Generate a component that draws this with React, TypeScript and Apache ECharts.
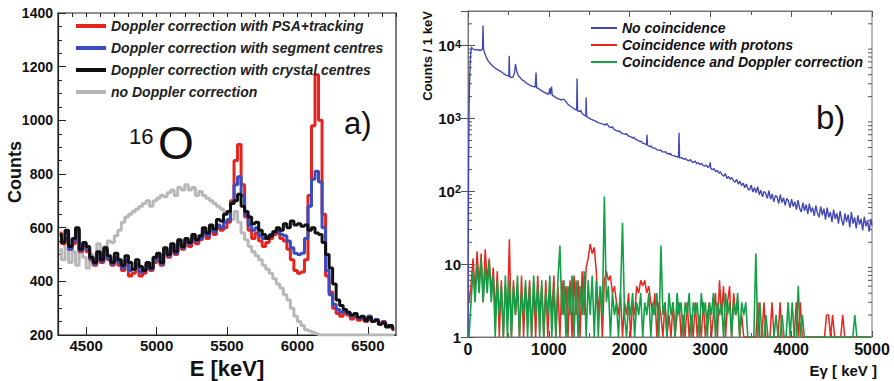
import React, { useEffect, useRef } from 'react';
import * as echarts from 'echarts';

const FONT = '"Liberation Sans", Arial, Helvetica, sans-serif';

// ---------- Panel a) : 16O spectra, 25 keV bins starting at 4300 keV ----------
const aBinStart = 4300;
const aBinWidth = 25;

const aPsaTracking = [
  580, 540, 560, 520, 540, 590, 510, 530,
  510, 480, 460, 500, 470, 510, 480, 460,
  480, 460, 440, 470, 420, 430, 450, 420,
  430, 460, 440, 470, 490, 460, 510, 490,
  520, 500, 540, 520, 545, 530, 560, 540,
  555, 580, 560, 590, 575, 600, 590, 600,
  620, 700, 850, 910, 760, 640, 590, 560,
  580, 550, 530, 545, 560, 575, 580, 560,
  550, 520, 480, 440, 430, 435, 480, 720,
  980, 1170, 1000, 650, 420, 360, 300, 280,
  270, 280, 275, 260, 270, 255, 260, 250,
  270, 250, 255, 240, 250, 235, 230, 220,
];

const aSegmentCentres = [
  570, 550, 580, 520, 550, 590, 515, 540,
  520, 485, 465, 505, 475, 515, 485, 465,
  490, 470, 450, 480, 440, 445, 465, 435,
  440, 465, 445, 480, 500, 465, 515, 495,
  530, 505, 545, 525, 550, 540, 565, 550,
  560, 590, 570, 600, 585, 610, 600, 620,
  630, 690, 760, 790, 720, 650, 610, 590,
  600, 570, 560, 565, 575, 585, 590, 575,
  570, 550, 525, 505, 500, 505, 560, 680,
  780, 810, 770, 600, 440, 350, 315, 295,
  285, 290, 280, 270, 275, 262, 265, 255,
  270, 252, 258, 242, 248, 236, 232, 222,
];

const aCrystalCentres = [
  575, 545, 590, 530, 560, 600, 520, 545,
  530, 490, 470, 510, 480, 525, 495, 470,
  505, 480, 460, 495, 470, 445, 480, 455,
  440, 470, 450, 490, 505, 470, 525, 500,
  540, 510, 555, 530, 560, 545, 575, 555,
  570, 600, 580, 610, 595, 630, 625, 650,
  660, 690, 700, 725, 680, 660, 640, 615,
  620, 590, 575, 560, 570, 585, 600, 590,
  615, 600, 625, 610, 615, 605, 610, 590,
  600, 580, 575, 545, 500, 450, 390, 330,
  310, 295, 285, 275, 280, 265, 270, 255,
  265, 250, 255, 240, 245, 230, 235, 225,
];

const aNoDoppler = [
  520, 480, 540, 470, 510, 460, 530, 490,
  450, 500, 470, 540, 510, 530, 550, 545,
  570, 590, 620, 640, 650, 660, 670, 680,
  690, 700, 680, 700, 710, 720, 715, 730,
  740, 720, 750, 740, 760, 740, 750, 720,
  735, 720, 710, 700, 690, 680, 670, 660,
  650, 630, 660, 620, 580, 555, 530, 510,
  495, 480, 460, 445, 430, 410, 390, 375,
  350, 330, 300, 270, 250, 235, 220, 215,
  210, 205, 200, 200, 200, 200, 200, 200,
  200, 200, 200, 200, 200, 200, 200, 200,
  200, 200, 200, 200, 200, 200, 200, 200,
];

const aNames = [
  'Doppler correction with PSA+tracking',
  'Doppler correction with segment centres',
  'Doppler correction with crystal centres',
  'no Doppler correction',
];

// ---------- Panel b) : gamma spectra ----------
const bNoCoincidence: [number, number][] = [
  [0, 1], [4, 30], [8, 300], [14, 1500], [22, 4000], [32, 7500], [42, 9600], [55, 9100],
  [75, 8800], [95, 8900], [115, 8700], [135, 8800], [155, 8600], [170, 8900], [180, 9100],
  [186, 19000], [192, 9000], [205, 8000], [225, 7000], [245, 6300], [270, 5800], [295, 5400],
  [320, 5100], [350, 4800], [380, 4600], [410, 4400], [440, 4150], [470, 3950], [495, 3850],
  [505, 3800], [510, 7300], [516, 3800], [535, 3650], [555, 3700], [575, 4200], [588, 5600],
  [598, 4800], [612, 4100], [630, 3800], [650, 3600], [670, 3400], [690, 3300], [710, 3150],
  [735, 3000], [760, 2900], [785, 2800], [810, 2750], [832, 2700], [842, 4300], [850, 2650],
  [870, 2600], [900, 2450], [930, 2350], [960, 2250], [990, 2150], [1005, 2300], [1012, 2600],
  [1018, 2150], [1028, 2500], [1034, 2750], [1042, 2100], [1070, 2000], [1100, 1900],
  [1130, 1850], [1160, 1800], [1185, 1850], [1205, 1750], [1230, 1600], [1260, 1500],
  [1290, 1420], [1320, 1350], [1345, 1300], [1350, 3550], [1356, 1280], [1380, 1250],
  [1395, 1300], [1410, 1180], [1440, 1110], [1458, 1080], [1462, 1950], [1468, 1070],
  [1490, 1030], [1520, 980], [1550, 950], [1580, 920], [1610, 880], [1640, 860], [1670, 840],
  [1700, 810], [1715, 860], [1725, 830], [1740, 780], [1770, 750], [1790, 770], [1800, 720],
  [1830, 690], [1860, 665], [1875, 680], [1890, 640], [1920, 620], [1950, 605], [1965, 620],
  [1980, 580], [2010, 565], [2040, 540], [2055, 555], [2070, 520], [2100, 505], [2130, 480],
  [2145, 490], [2160, 460], [2190, 448], [2210, 435], [2215, 600], [2222, 430], [2250, 412],
  [2265, 420], [2280, 398], [2310, 392], [2330, 380], [2340, 372], [2370, 366], [2385, 372],
  [2400, 352], [2430, 346], [2445, 352], [2460, 334], [2490, 326], [2505, 332], [2520, 312],
  [2550, 310], [2565, 300], [2580, 302], [2605, 292], [2612, 640], [2618, 288],
  [2650, 290], [2670, 276], [2690, 284], [2710, 270], [2730, 262], [2750, 274], [2770, 255],
  [2790, 250], [2810, 262], [2830, 240], [2850, 248], [2870, 234], [2890, 242], [2910, 226],
  [2930, 222], [2950, 230], [2970, 212], [2990, 225], [2997, 250], [3005, 208], [3025, 198],
  [3045, 206], [3065, 186], [3085, 194], [3105, 178], [3125, 186], [3145, 168], [3165, 162],
  [3185, 176], [3205, 150], [3225, 160], [3245, 146], [3265, 155], [3285, 140], [3305, 134],
  [3325, 146], [3345, 126], [3365, 138], [3385, 120], [3405, 130], [3425, 112], [3445, 126],
  [3465, 108], [3485, 104], [3505, 122], [3525, 98], [3545, 112], [3565, 96], [3585, 116],
  [3605, 90], [3625, 104], [3645, 84], [3665, 100], [3685, 94], [3705, 80], [3725, 102],
  [3745, 78], [3765, 92], [3785, 72], [3805, 88], [3825, 84], [3845, 68], [3865, 90],
  [3885, 70], [3905, 82], [3925, 64], [3945, 80], [3965, 74], [3985, 60], [4005, 78],
  [4025, 62], [4045, 72], [4065, 56], [4085, 76], [4105, 58], [4125, 52], [4145, 70],
  [4165, 54], [4185, 66], [4205, 49], [4225, 68], [4245, 52], [4265, 60], [4285, 46],
  [4305, 64], [4325, 50], [4345, 44], [4365, 62], [4385, 47], [4405, 58], [4425, 41],
  [4445, 60], [4465, 44], [4485, 52], [4505, 38], [4525, 56], [4545, 42], [4565, 50],
  [4585, 36], [4605, 54], [4625, 40], [4645, 34], [4665, 50], [4685, 38], [4705, 48],
  [4725, 32], [4745, 52], [4765, 36], [4785, 44], [4805, 31], [4825, 47], [4845, 35],
  [4865, 42], [4885, 29], [4905, 45], [4925, 33], [4945, 40], [4965, 28], [4985, 42],
  [5000, 34],
];

// 25 keV bins from 0 keV; a count of 1 sits on the bottom of the log axis
const bBinWidth = 25;
const bProtons = [
  3, 5, 12, 4, 15, 5, 14, 3, 16, 6,
  12, 4, 9, 2, 8, 1, 6, 1, 5, 2,
  22, 1, 6, 2, 5, 1, 7, 1, 5, 2,
  6, 1, 5, 1, 7, 2, 5, 1, 6, 1,
  5, 2, 7, 1, 5, 1, 6, 2, 5, 1,
  6, 1, 7, 2, 6, 1, 8, 2, 9, 12,
  19, 14, 17, 8, 2, 5, 1, 6, 8, 6,
  7, 4, 5, 3, 2, 4, 1, 3, 2, 4,
  1, 3, 2, 5, 4, 6, 5, 6, 4, 5,
  3, 2, 4, 1, 3, 2, 1, 3, 1, 2,
  1, 3, 1, 2, 3, 1, 2, 1, 3, 1,
  2, 1, 3, 1, 2, 1, 3, 1, 2, 3,
  1, 2, 4, 1, 6, 2, 5, 1, 3, 5,
  1, 4, 2, 3, 1, 2, 1, 1, 1, 1,
  1, 1, 1, 3, 1, 1, 3, 1, 1, 1,
  3, 1, 1, 1, 3, 1, 1, 1, 1, 1,
  1, 1, 3, 1, 3, 1, 1, 1, 1, 1,
  1, 1, 1, 1, 1, 1, 1, 2, 2, 1,
  2, 1, 1, 1, 1, 2, 1, 1, 1, 1,
  1, 1, 1, 1, 1, 1, 1, 1, 1, 1,
];

const bDoppler = [
  1, 3, 8, 3, 10, 4, 12, 3, 9, 4,
  11, 3, 7, 1, 6, 2, 5, 1, 7, 1,
  6, 1, 5, 2, 7, 1, 4, 2, 6, 1,
  5, 1, 7, 2, 5, 1, 6, 1, 4, 2,
  7, 1, 5, 1, 6, 18, 2, 6, 1, 5,
  2, 7, 1, 6, 1, 5, 2, 8, 1, 6,
  2, 7, 1, 6, 1, 5, 2, 85, 3, 5,
  1, 4, 2, 3, 1, 4, 37, 2, 1, 3,
  2, 4, 1, 3, 2, 4, 1, 3, 2, 4,
  1, 3, 2, 4, 1, 18, 2, 3, 1, 4,
  2, 3, 1, 4, 2, 3, 1, 3, 2, 4,
  1, 3, 2, 3, 1, 4, 2, 3, 1, 3,
  2, 4, 1, 3, 2, 3, 1, 4, 2, 3,
  1, 3, 2, 4, 1, 3, 2, 3, 1, 1,
  1, 1, 14, 1, 3, 1, 1, 2, 1, 1,
  1, 1, 2, 1, 1, 2, 1, 1, 3, 1,
  3, 1, 1, 5, 1, 2, 1, 1, 1, 1,
  1, 1, 1, 1, 1, 1, 1, 1, 1, 1,
  1, 1, 1, 1, 1, 1, 1, 1, 1, 1,
  1, 2, 1, 1, 1, 1, 1, 1, 1, 1,
];

const bNames = ['No coincidence', 'Coincidence with protons', 'Coincidence and Doppler correction'];

const bLogDecades = [1, 10, 100, 1000, 10000];
const bLogMinorMultipliers = [2, 3, 4, 5, 6, 7, 8, 9];

const aColors = { red: '#e5241d', blue: '#3a4cc0', black: '#111111', gray: '#b8b8b8' };
const bColors = { blue: '#4349b3', red: '#e8261e', green: '#13a048' };

export default function App() {
  const ref = useRef<HTMLDivElement>(null);

  useEffect(() => {
    if (!ref.current) return;
    const chart = echarts.init(ref.current, undefined, { renderer: 'svg' });

    const aBins = (vals: number[]) => vals.map((v, i) => [aBinStart + aBinWidth * (i + 0.5), v]);
    const bBins = (vals: number[]) => vals.map((v, i) => [bBinWidth * (i + 0.5), v]);
    const minorTicks = bLogDecades
      .flatMap((d) => bLogMinorMultipliers.map((m) => m * d))
      .filter((v) => v < 30000)
      .map((v) => [0, v]);

    const aLine = (name: string, data: number[], color: string) => ({
      name,
      type: 'line',
      xAxisIndex: 0,
      yAxisIndex: 0,
      step: 'middle',
      symbol: 'none',
      data: aBins(data),
      lineStyle: { color, width: 3 },
      itemStyle: { color },
    });

    const bLine = (name: string, data: any[], color: string, width: number) => ({
      name,
      type: 'line',
      xAxisIndex: 2,
      yAxisIndex: 1,
      symbol: 'none',
      data,
      lineStyle: { color, width },
      itemStyle: { color },
    });

    const plain = (v: number) => String(v);
    const tickLabelA = { fontFamily: FONT, fontWeight: 'bold', color: '#111' };

    chart.setOption({
      animation: false,
      backgroundColor: '#ffffff',
      grid: [
        { left: 58, top: 13, width: 338, height: 322, show: true, borderColor: '#222', borderWidth: 1.2, backgroundColor: 'transparent' },
        { left: 468, top: 11, width: 404, height: 326, show: true, borderColor: '#777', borderWidth: 1, backgroundColor: 'transparent' },
      ],
      xAxis: [
        {
          gridIndex: 0, type: 'value', min: 4300, max: 6700, splitNumber: 5,
          axisLine: { show: true, lineStyle: { color: '#222', width: 1.2 } },
          axisTick: { show: true, inside: true, length: 8, lineStyle: { color: '#222' } },
          axisLabel: { ...tickLabelA, fontSize: 15, margin: 3, showMinLabel: false, showMaxLabel: false, formatter: plain },
          splitLine: { show: false },
        },
        {
          gridIndex: 0, type: 'value', min: 4300, max: 6700, interval: 100,
          axisLine: { show: false },
          axisTick: { show: true, inside: true, length: 4, lineStyle: { color: '#222' } },
          axisLabel: { show: false },
          splitLine: { show: false },
        },
        {
          gridIndex: 1, type: 'value', min: 0, max: 5000, interval: 1000,
          axisLine: { show: true, lineStyle: { color: '#777' } },
          axisTick: { show: true, inside: true, length: 6, lineStyle: { color: '#555' } },
          minorTick: { show: true, splitNumber: 2, length: 4, lineStyle: { color: '#555' } },
          axisLabel: { ...tickLabelA, fontSize: 16, margin: 4, formatter: plain },
          splitLine: { show: false },
          minorSplitLine: { show: false },
        },
        {
          gridIndex: 1, type: 'value', position: 'top', min: 0, max: 5000, interval: 1000,
          axisLine: { show: true, lineStyle: { color: '#777' } },
          axisTick: { show: true, inside: true, length: 6, lineStyle: { color: '#555' } },
          minorTick: { show: true, splitNumber: 2, length: 4, lineStyle: { color: '#555' } },
          axisLabel: { show: false },
          splitLine: { show: false },
        },
      ],
      yAxis: [
        {
          gridIndex: 0, type: 'value', min: 200, max: 1400, interval: 200,
          axisLine: { show: true, lineStyle: { color: '#222', width: 1.2 } },
          axisTick: { show: true, inside: true, length: 8, lineStyle: { color: '#222' } },
          minorTick: { show: true, splitNumber: 4, length: 4, lineStyle: { color: '#222' } },
          axisLabel: { ...tickLabelA, fontSize: 14, margin: 5, formatter: plain },
          splitLine: { show: false },
          minorSplitLine: { show: false },
        },
        {
          gridIndex: 1, type: 'log', logBase: 10, min: 1, max: 30000,
          axisLine: { show: true, lineStyle: { color: '#777' } },
          axisTick: { show: true, inside: true, length: 7, lineStyle: { color: '#555' } },
          axisLabel: {
            ...tickLabelA,
            fontSize: 15,
            margin: 7,
            showMaxLabel: false,
            formatter: (v: number) => {
              const lg = Math.log10(v);
              const k = Math.round(lg);
              if (Math.abs(lg - k) > 0.01) return '';
              if (k === 0) return '{b|1}';
              if (k === 1) return '{b|10}';
              return `{b|10}{e|${k}}`;
            },
            rich: {
              b: { fontFamily: FONT, fontWeight: 'bold', fontSize: 15, color: '#111' },
              e: { fontFamily: FONT, fontWeight: 'bold', fontSize: 11, color: '#111', verticalAlign: 'top', lineHeight: 11 },
            },
          },
          splitLine: { show: false },
        },
        {
          gridIndex: 1, type: 'log', logBase: 10, min: 1, max: 30000, position: 'right',
          axisLine: { show: true, lineStyle: { color: '#777' } },
          axisTick: { show: true, inside: true, length: 7, lineStyle: { color: '#555' } },
          axisLabel: { show: false },
          splitLine: { show: false },
        },
      ],
      legend: [
        {
          data: aNames, orient: 'vertical', left: 76, top: 18, padding: 0,
          itemWidth: 30, itemHeight: 4, itemGap: 6, icon: 'rect', selectedMode: false,
          textStyle: { fontFamily: FONT, fontWeight: 'bold', fontStyle: 'italic', fontSize: 14, color: '#222', lineHeight: 16 },
        },
        {
          data: bNames, orient: 'vertical', left: 591, top: 21, padding: 0,
          itemWidth: 26, itemHeight: 2, itemGap: 3, icon: 'rect', selectedMode: false,
          textStyle: { fontFamily: FONT, fontWeight: 'bold', fontStyle: 'italic', fontSize: 14, color: '#111', lineHeight: 14 },
        },
      ],
      series: [
        aLine(aNames[3], aNoDoppler, aColors.gray),
        aLine(aNames[0], aPsaTracking, aColors.red),
        aLine(aNames[1], aSegmentCentres, aColors.blue),
        aLine(aNames[2], aCrystalCentres, aColors.black),
        bLine(bNames[0], bNoCoincidence, bColors.blue, 1.4),
        bLine(bNames[1], bBins(bProtons), bColors.red, 1.5),
        bLine(bNames[2], bBins(bDoppler), bColors.green, 1.6),
        {
          type: 'custom',
          name: 'log minor ticks',
          xAxisIndex: 2,
          yAxisIndex: 1,
          silent: true,
          clip: false,
          data: minorTicks,
          encode: { x: 0, y: 1 },
          renderItem: (_p: any, api: any) => {
            const v = api.value(1);
            const a = api.coord([0, v]);
            const b = api.coord([5000, v]);
            const st = { stroke: '#555', lineWidth: 1 };
            return {
              type: 'group',
              children: [
                { type: 'line', shape: { x1: a[0], y1: a[1], x2: a[0] + 4, y2: a[1] }, style: st },
                { type: 'line', shape: { x1: b[0] - 4, y1: b[1], x2: b[0], y2: b[1] }, style: st },
              ],
            };
          },
        },
      ],
      graphic: [
        { type: 'text', left: 129, top: 125, style: { text: '16', fontFamily: FONT, fontSize: 22, fill: '#111' } },
        { type: 'text', left: 158, top: 120, style: { text: 'O', fontFamily: FONT, fontSize: 46, fill: '#111' } },
        { type: 'text', left: 344, top: 108, style: { text: 'a)', fontFamily: FONT, fontSize: 31, fill: '#111' } },
        { type: 'text', left: 816, top: 101, style: { text: 'b)', fontFamily: FONT, fontSize: 33, fill: '#111' } },
        {
          type: 'text', x: 15, y: 172, rotation: Math.PI / 2,
          style: { text: 'Counts', fontFamily: FONT, fontWeight: 'bold', fontSize: 18, fill: '#111', align: 'center', verticalAlign: 'middle' },
        },
        {
          type: 'text', x: 227, y: 368,
          style: { text: 'E [keV]', fontFamily: FONT, fontWeight: 'bold', fontSize: 22, fill: '#111', align: 'center', verticalAlign: 'middle' },
        },
        {
          type: 'text', x: 427, y: 56, rotation: Math.PI / 2,
          style: { text: 'Counts / 1 keV', fontFamily: FONT, fontWeight: 'bold', fontSize: 13, fill: '#111', align: 'center', verticalAlign: 'middle' },
        },
        {
          type: 'text', x: 877, y: 370,
          style: { text: 'Eγ [ keV ]', fontFamily: FONT, fontWeight: 'bold', fontSize: 15, fill: '#111', align: 'right', verticalAlign: 'middle' },
        },
      ],
    });

    return () => chart.dispose();
  }, []);

  return (
    <div
      ref={ref}
      style={{ position: 'absolute', left: 0, top: 0, width: 894, height: 381, background: '#fff' }}
    />
  );
}
